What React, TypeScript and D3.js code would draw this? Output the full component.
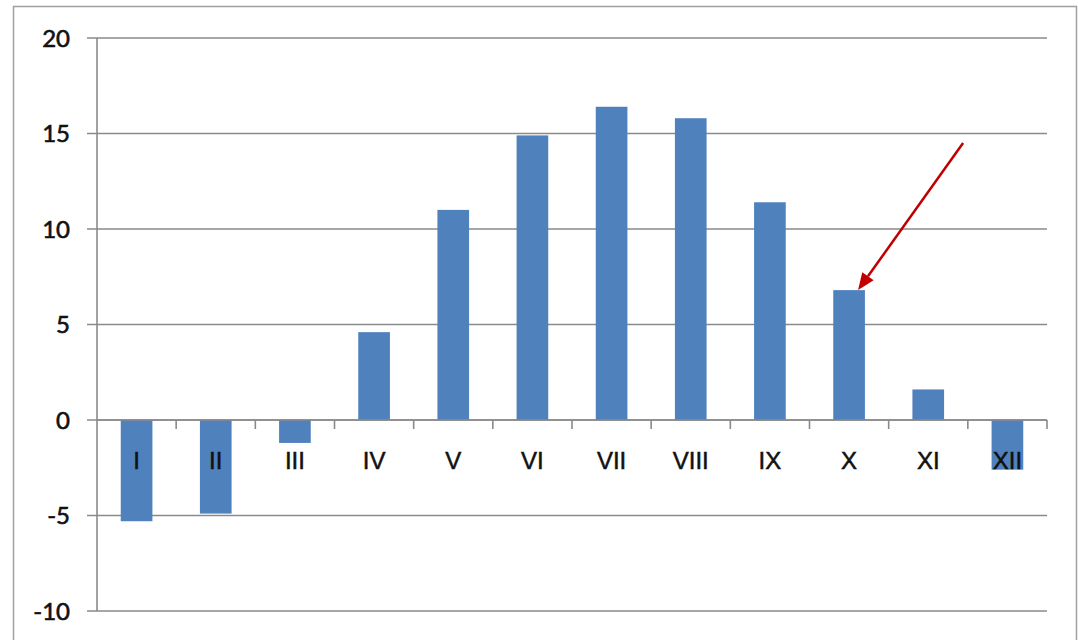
import React from "react";
import * as d3 from "d3";

const categories = ["I", "II", "III", "IV", "V", "VI", "VII", "VIII", "IX", "X", "XI", "XII"];
const values = [-5.3, -4.9, -1.2, 4.6, 11.0, 14.9, 16.4, 15.8, 11.4, 6.8, 1.6, -2.6];
const yTicks = [-10, -5, 0, 5, 10, 15, 20];
const arrowTarget = "X";
const arrowValue = 6.8;

const W = 1078;
const H = 640;
const left = 97;
const right = 1047;
const top = 38;
const bottom = 611;

export default function App() {
  const x = d3.scaleBand<string>().domain(categories).range([left, right]).paddingInner(0).paddingOuter(0);
  const y = d3.scaleLinear().domain([-10, 20]).range([bottom, top]);
  const bw = x.bandwidth() * 0.4;
  const gridColor = "#8a8a8a";
  const y0 = y(0);

  const tipX = (x(arrowTarget) as number) + x.bandwidth() / 2 + 9;
  const tipY = y(arrowValue);
  const startX = tipX + 105;
  const startY = y(14.5);
  const ang = Math.atan2(tipY - startY, tipX - startX);
  const headLen = 17;
  const headHalf = 7;
  const bx = tipX - headLen * Math.cos(ang);
  const by = tipY - headLen * Math.sin(ang);
  const px = -Math.sin(ang);
  const py = Math.cos(ang);
  const head = `M${tipX},${tipY} L${bx + px * headHalf},${by + py * headHalf} L${bx - px * headHalf},${by - py * headHalf} Z`;

  return (
    <div style={{ position: "absolute", left: 0, top: 0 }}>
      <svg width={W} height={H} style={{ display: "block", background: "#fff" }}>
        <rect x={0} y={0} width={W} height={H} fill="#fff" />
        {/* outer border */}
        <path d={`M13.5,${H} L13.5,6.5 L1076.5,6.5 L1076.5,${H}`} fill="none" stroke="#a0a0a0" strokeWidth={1.5} />
        {/* gridlines */}
        {yTicks.map((t) => (
          <line key={t} x1={left - 10} x2={right} y1={y(t)} y2={y(t)} stroke={gridColor} strokeWidth={1.6} />
        ))}
        {/* y axis line */}
        <line x1={left} x2={left} y1={top} y2={bottom} stroke={gridColor} strokeWidth={1.6} />
        {/* bars */}
        {categories.map((c, i) => {
          const v = values[i];
          const cx = (x(c) as number) + x.bandwidth() / 2;
          const yt = Math.min(y(v), y0);
          const h = Math.abs(y(v) - y0);
          return <rect key={c} x={cx - bw / 2} y={yt} width={bw} height={h} fill="#4F81BD" />;
        })}
        {/* x axis ticks */}
        {categories.map((c) => (
          <line key={"t" + c} x1={(x(c) as number) + x.bandwidth()} x2={(x(c) as number) + x.bandwidth()} y1={y0} y2={y0 + 9} stroke={gridColor} strokeWidth={1.6} />
        ))}
        <line x1={left} x2={right} y1={y0} y2={y0} stroke={gridColor} strokeWidth={1.6} />
        {/* y tick labels */}
        {yTicks.map((t) => (
          <text key={"l" + t} x={70} y={y(t)} dy="0.36em" textAnchor="end" fontFamily="Lato, 'Open Sans', sans-serif" fontSize={24} fill="#111" stroke="#111" strokeWidth={0.6}>
            {t}
          </text>
        ))}
        {/* category labels */}
        {categories.map((c) => (
          <text key={"c" + c} x={(x(c) as number) + x.bandwidth() / 2} y={y0 + 49} textAnchor="middle" fontFamily="'Liberation Sans', Arial, sans-serif" fontSize={24} fill="#111" stroke="#111" strokeWidth={0.5}>
            {c}
          </text>
        ))}
        {/* arrow */}
        <line x1={startX} y1={startY} x2={bx} y2={by} stroke="#C00000" strokeWidth={2.5} />
        <path d={head} fill="#C00000" />
      </svg>
    </div>
  );
}
